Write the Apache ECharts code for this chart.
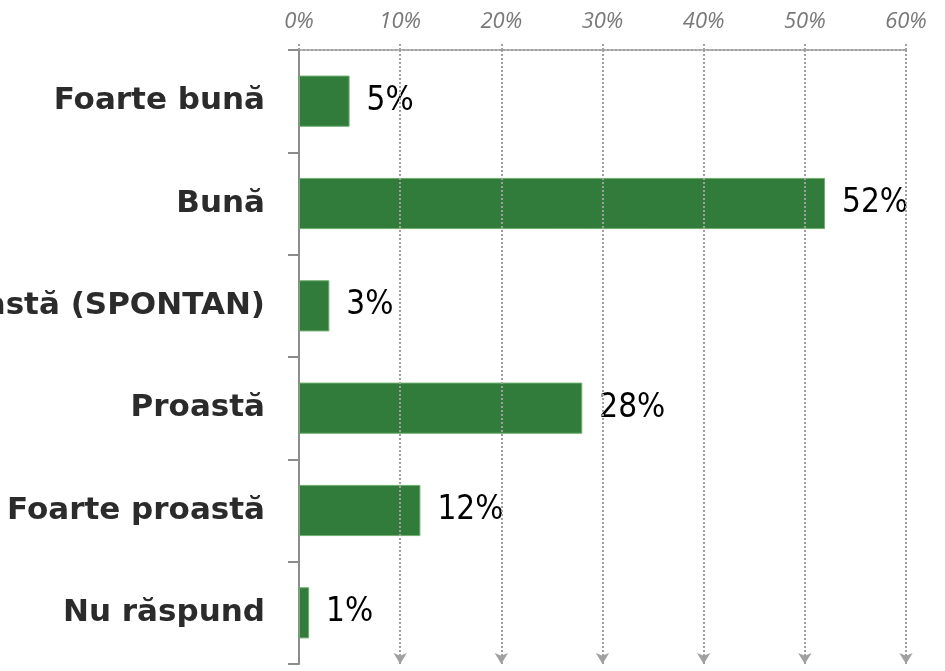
<!DOCTYPE html>
<html>
<head>
<meta charset="utf-8">
<script src="https://cdn.jsdelivr.net/npm/echarts@6/dist/echarts.min.js"></script>
<style>
  html, body { margin: 0; padding: 0; background: #fff; }
  #chart { width: 945px; height: 671px; }
</style>
</head>
<body>
<div id="chart"></div>
<script>
// date grafic
const categorii = ['Foarte bună', 'Bună', 'Nici bună, nici proastă (SPONTAN)', 'Proastă', 'Foarte proastă', 'Nu răspund'];
const valori = [5, 52, 3, 28, 12, 1];
const gradatii = [10, 20, 30, 40, 50, 60];

const chart = echarts.init(document.getElementById('chart'));

const gridStyle = { color: '#a0a0a0', width: 2, type: [2, 2] };

chart.setOption({
  animation: false,
  grid: { left: 299, right: 39, top: 50, bottom: 7, containLabel: false, outerBoundsMode: 'none' },
  xAxis: {
    type: 'value',
    position: 'top',
    min: 0,
    max: 60,
    interval: 10,
    axisLine: { show: true, lineStyle: gridStyle },
    axisTick: { show: true, length: 6, lineStyle: gridStyle },
    splitLine: { show: false },
    axisLabel: {
      formatter: '{value}%',
      margin: 17,
      fontFamily: 'Open Sans',
      fontStyle: 'italic',
      fontSize: 22,
      color: '#787878'
    }
  },
  yAxis: {
    type: 'category',
    inverse: true,
    data: categorii,
    axisLine: { show: true, lineStyle: { color: '#8c8c8c', width: 2 } },
    axisTick: { show: true, length: 11, lineStyle: { color: '#8c8c8c', width: 2 } },
    axisLabel: {
      margin: 34,
      fontFamily: 'DejaVu Sans',
      fontWeight: 'bold',
      fontSize: 31,
      color: '#2b2b2b'
    }
  },
  series: [{
    type: 'bar',
    data: valori,
    barWidth: '50%',
    itemStyle: { color: '#317b3b', borderColor: '#6fae6f', borderWidth: 1 },
    label: {
      show: true,
      position: 'right',
      distance: 17,
      formatter: '{c}%',
      fontFamily: '"Liberation Sans Narrow", "DejaVu Sans Condensed", sans-serif',
      fontSize: 33,
      color: '#000'
    },
    markLine: {
      silent: true,
      symbol: ['none', 'arrow'],
      symbolSize: [10, 11],
      label: { show: false },
      lineStyle: gridStyle,
      data: gradatii.map(v => ({ xAxis: v }))
    }
  }]
});
</script>
</body>
</html>
